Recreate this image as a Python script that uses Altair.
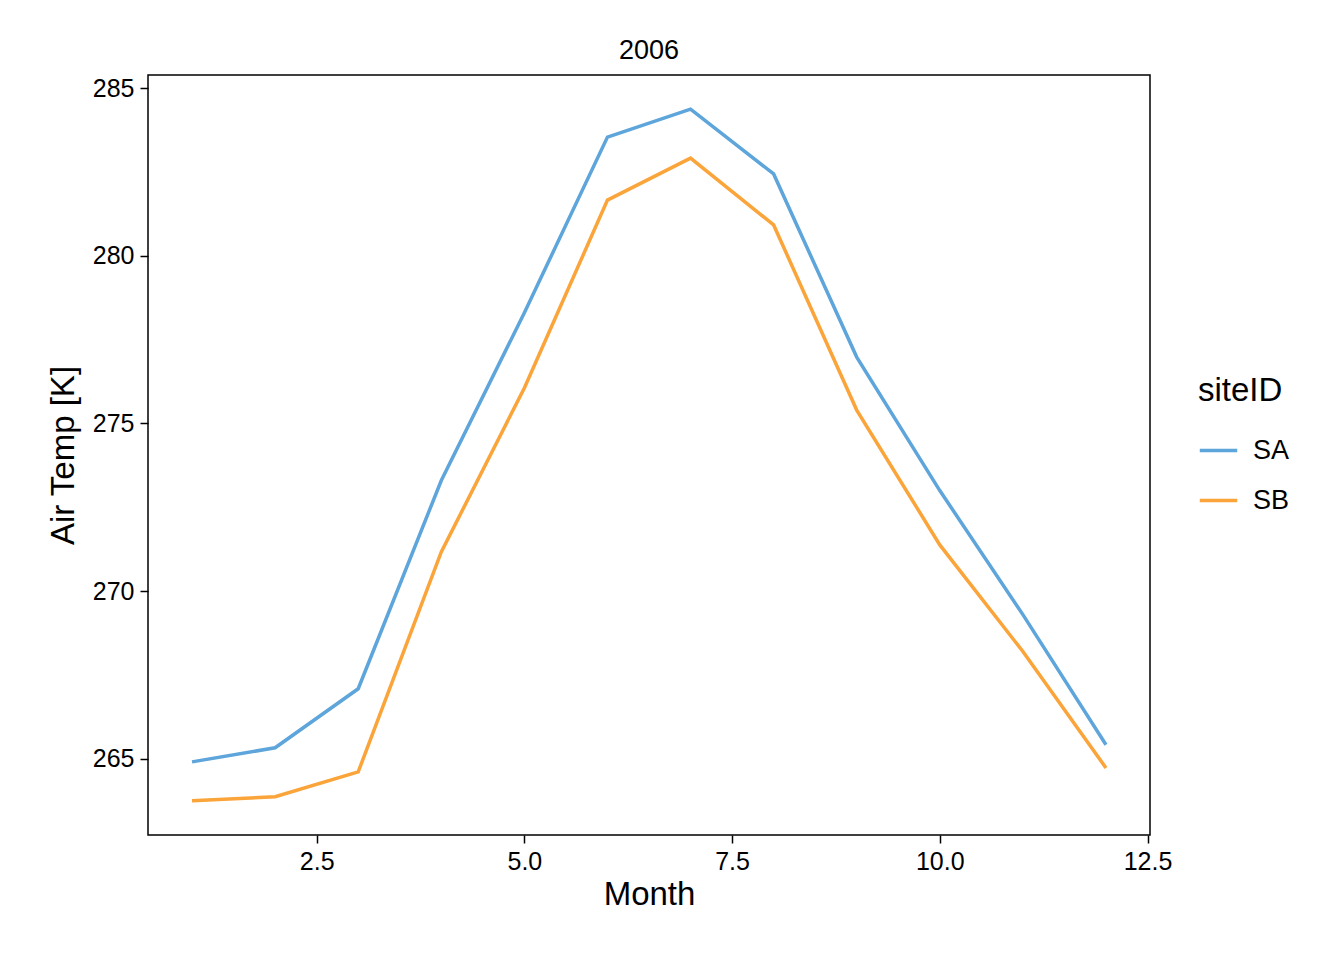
import altair as alt
import pandas as pd

months = list(range(1, 13))
sa = [264.91, 265.33, 267.09, 273.3, 278.3, 283.54, 284.37, 282.44, 276.98, 273.0, 269.3, 265.42]
sb = [263.75, 263.87, 264.61, 271.17, 276.06, 281.66, 282.91, 280.92, 275.4, 271.38, 268.2, 264.73]

df = pd.DataFrame({
    "Month": months * 2,
    "Temp": sa + sb,
    "siteID": ["SA"] * 12 + ["SB"] * 12,
})

F = "Liberation Sans"
ax = dict(grid=False, domain=False, tickColor="black", tickSize=8, tickWidth=1.5,
          labelFont=F, labelFontSize=25, labelColor="black", labelPadding=6,
          titleFont=F, titleFontSize=33, titleFontWeight="normal", titleColor="black")
chart = alt.Chart(df).mark_line(strokeWidth=3.5, clip=True).encode(
    x=alt.X("Month:Q", scale=alt.Scale(domain=[0.47, 12.53], nice=False, zero=False),
            axis=alt.Axis(values=[2.5, 5.0, 7.5, 10.0, 12.5], format=".1f", title="Month", titlePadding=4, **ax)),
    y=alt.Y("Temp:Q", scale=alt.Scale(domain=[262.73, 285.39], nice=False, zero=False),
            axis=alt.Axis(values=[265, 270, 275, 280, 285], title="Air Temp [K]", labelAngle=0, titlePadding=12, **ax)),
    color=alt.Color("siteID:N", scale=alt.Scale(domain=["SA", "SB"], range=["#5DA5DA", "#FAA43A"]),
                    legend=alt.Legend(orient="none", legendX=1050, legendY=300, symbolType="stroke",
                                      symbolStrokeWidth=3.5, symbolSize=1400,
                                      titleFont=F, titleFontSize=33, titleFontWeight="normal", titleColor="black",
                                      labelFont=F, labelFontSize=27, labelColor="black", labelOffset=14,
                                      rowPadding=16, titlePadding=22)),
).properties(
    width=1002, height=760,
    title=alt.Title("2006", font=F, fontSize=27, fontWeight="normal", color="black", offset=10),
    autosize=alt.AutoSizeParams(type="none"),
    padding={"left": 140, "top": 67, "right": 186, "bottom": 117},
).configure_view(stroke="black", strokeWidth=1.5)

chart.save("out.html", embed_options={"renderer": "svg", "actions": False})
